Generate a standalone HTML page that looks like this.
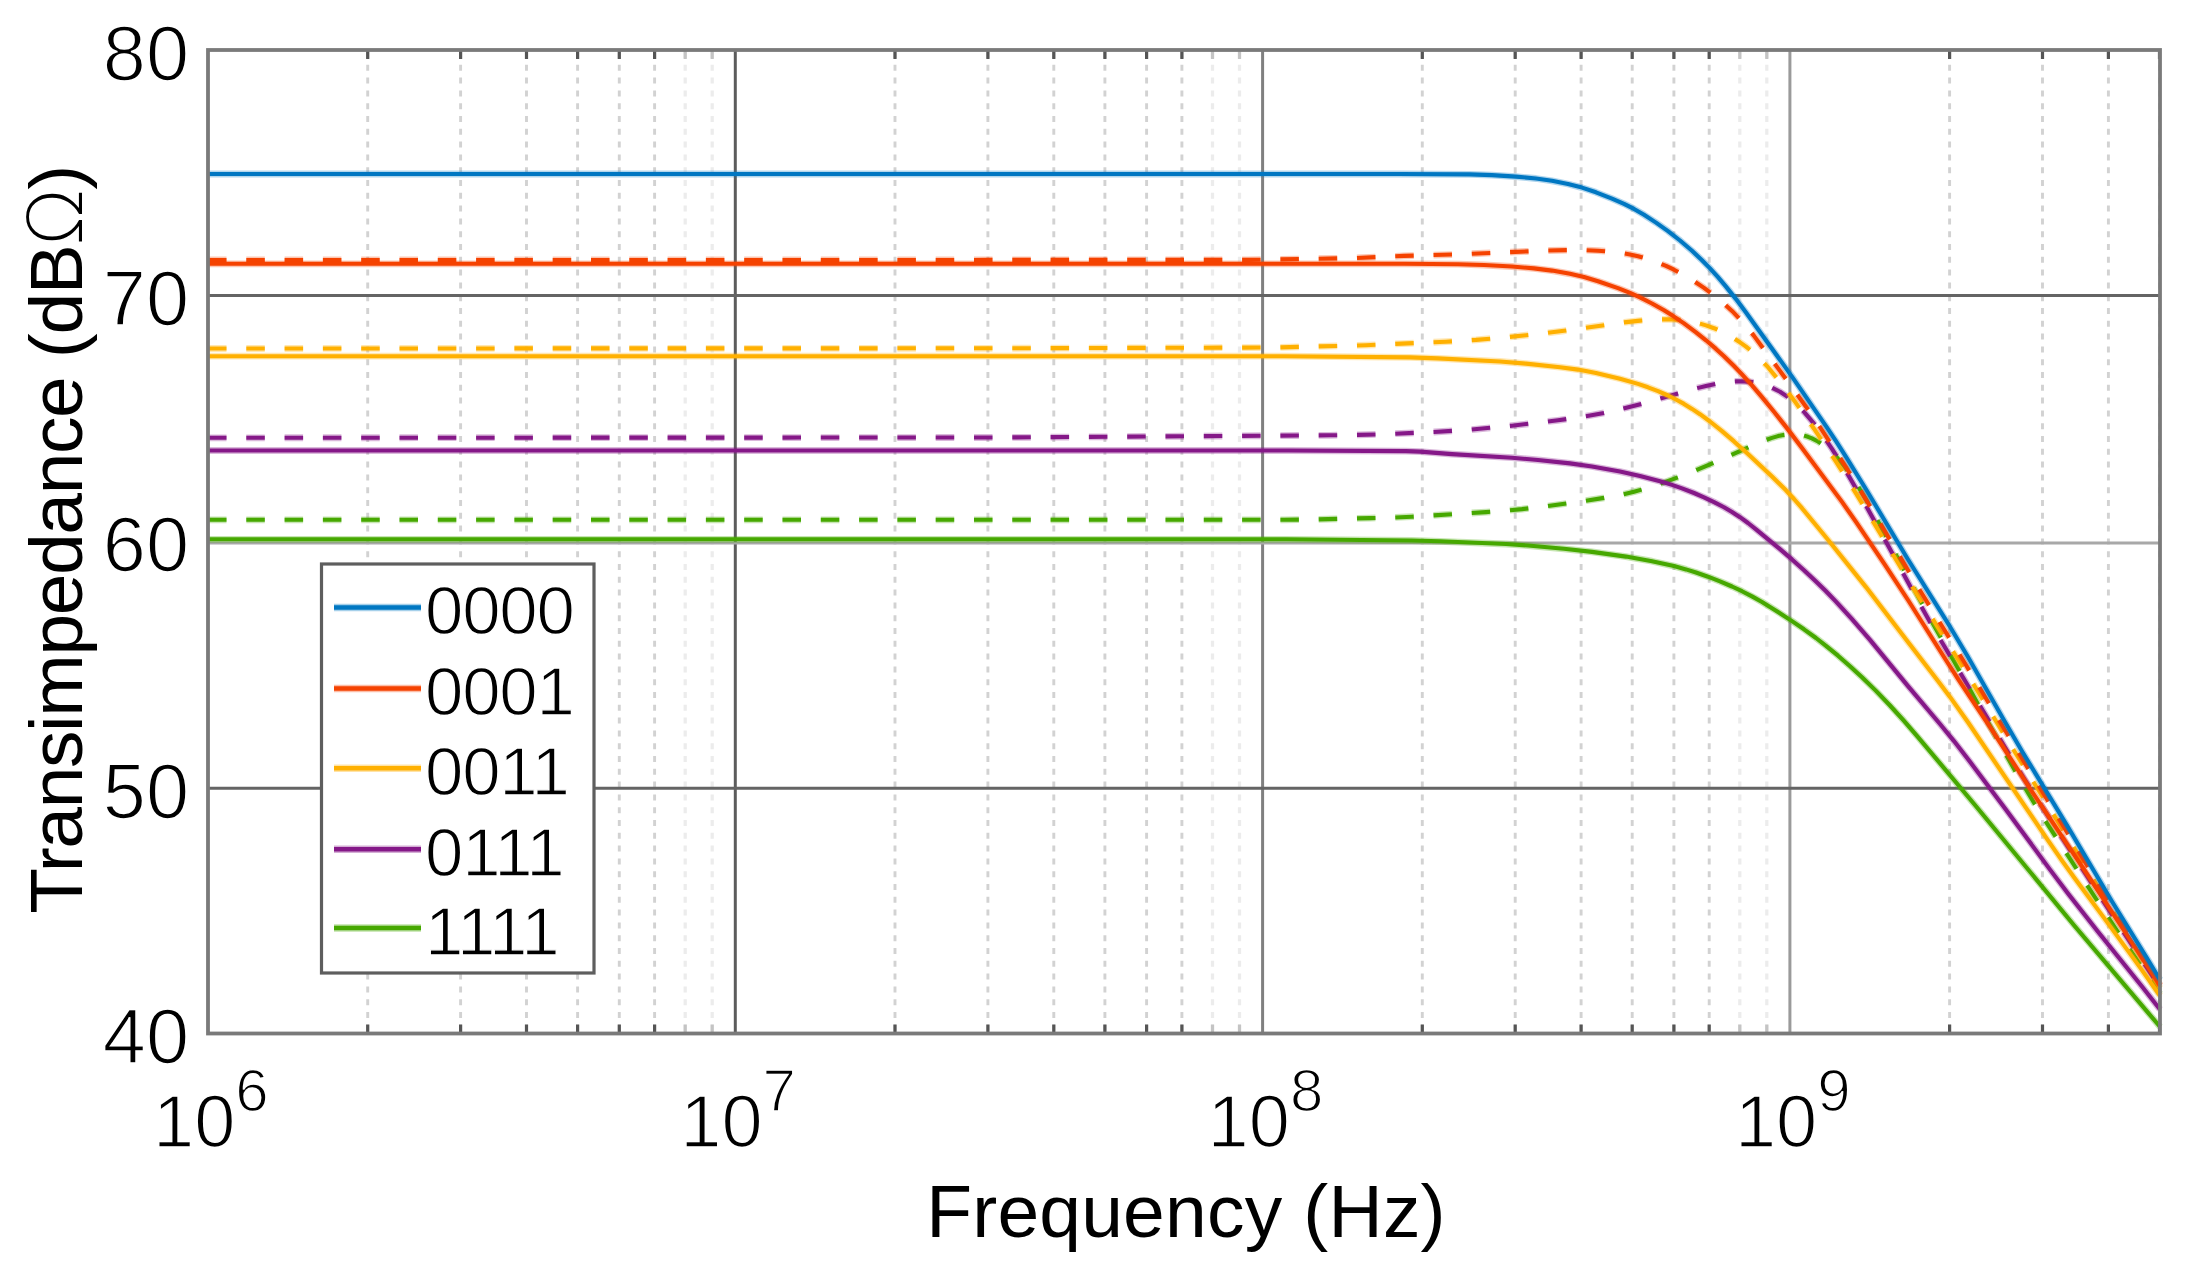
<!DOCTYPE html>
<html><head><meta charset="utf-8"><title>Transimpedance vs Frequency</title>
<style>
html,body{margin:0;padding:0;background:#fff;}
body{width:2190px;height:1280px;overflow:hidden;}
svg{display:block;font-family:"Liberation Sans",Arial,Helvetica,sans-serif;}
</style></head><body>
<svg width="2190" height="1280" viewBox="0 0 2190 1280">
<rect x="0" y="0" width="2190" height="1280" fill="#fff"/>
<path d="M367.7,52.0V1031.5M460.6,52.0V1031.5M526.5,52.0V1031.5M577.6,52.0V1031.5M619.3,52.0V1031.5M654.6,52.0V1031.5M895.0,52.0V1031.5M987.9,52.0V1031.5M1053.8,52.0V1031.5M1104.9,52.0V1031.5M1146.6,52.0V1031.5M1181.9,52.0V1031.5M1422.3,52.0V1031.5M1515.2,52.0V1031.5M1581.1,52.0V1031.5M1632.2,52.0V1031.5M1673.9,52.0V1031.5M1709.2,52.0V1031.5M1949.6,52.0V1031.5M2042.5,52.0V1031.5M2108.4,52.0V1031.5M2159.5,52.0V1031.5" stroke="#d2d2d2" stroke-width="2.9" stroke-dasharray="6 6.8" fill="none"/>
<path d="M685.2,52.0V1031.5M712.2,52.0V1031.5M1212.5,52.0V1031.5M1239.5,52.0V1031.5M1739.8,52.0V1031.5M1766.8,52.0V1031.5" stroke="#ececec" stroke-width="3.2" stroke-dasharray="6 6.8" fill="none"/>
<path d="M735.3,50.0V1033.5" stroke="#5c5c5c" stroke-width="3" fill="none"/>
<path d="M1262.6,50.0V1033.5" stroke="#808080" stroke-width="3" fill="none"/>
<path d="M1789.9,50.0V1033.5" stroke="#9a9a9a" stroke-width="3" fill="none"/>
<path d="M208.0,295.5H2160.0M208.0,788.3H2160.0" stroke="#646464" stroke-width="3" fill="none"/>
<path d="M208.0,543.0H2160.0" stroke="#a8a8a8" stroke-width="3" fill="none"/>
<g stroke="#46A800" fill="none" stroke-linejoin="round" stroke-dasharray="18.5 19.8"><path d="M208.0,519.8L1284.0,519.8L1312.0,519.5L1370.0,518.1L1394.0,517.5L1412.0,516.7L1486.0,512.1L1506.0,510.6L1522.0,509.1L1548.0,506.0L1578.0,501.9L1604.0,497.9L1622.0,494.6L1634.0,491.8L1646.0,488.4L1662.0,483.1L1678.0,477.3L1694.0,471.0L1710.0,464.3L1758.0,443.2L1766.0,440.0L1772.0,437.9L1778.0,436.1L1782.0,435.2L1790.0,434.2L1794.0,434.2L1798.0,434.5L1804.0,435.6L1808.0,436.8L1812.0,438.4L1818.0,441.5L1824.0,445.5L1830.0,450.5L1836.0,456.4L1842.0,463.3L1848.0,471.2L1856.0,483.0L1866.0,499.6L1876.0,517.5L1918.0,596.2L1934.0,625.5L1968.0,686.1L2006.0,754.8L2024.0,786.1L2034.0,802.7L2046.0,821.8L2100.0,905.1L2122.0,938.2L2160.0,993.8" stroke-width="6.8" stroke-opacity="0.3"/><path d="M208.0,519.8L1284.0,519.8L1312.0,519.5L1370.0,518.1L1394.0,517.5L1412.0,516.7L1486.0,512.1L1506.0,510.6L1522.0,509.1L1548.0,506.0L1578.0,501.9L1604.0,497.9L1622.0,494.6L1634.0,491.8L1646.0,488.4L1662.0,483.1L1678.0,477.3L1694.0,471.0L1710.0,464.3L1758.0,443.2L1766.0,440.0L1772.0,437.9L1778.0,436.1L1782.0,435.2L1790.0,434.2L1794.0,434.2L1798.0,434.5L1804.0,435.6L1808.0,436.8L1812.0,438.4L1818.0,441.5L1824.0,445.5L1830.0,450.5L1836.0,456.4L1842.0,463.3L1848.0,471.2L1856.0,483.0L1866.0,499.6L1876.0,517.5L1918.0,596.2L1934.0,625.5L1968.0,686.1L2006.0,754.8L2024.0,786.1L2034.0,802.7L2046.0,821.8L2100.0,905.1L2122.0,938.2L2160.0,993.8" stroke-width="4.1"/></g>
<g stroke="#851888" fill="none" stroke-linejoin="round" stroke-dasharray="18.5 19.8"><path d="M208.0,437.8L998.0,437.5L1330.0,435.3L1358.0,434.9L1384.0,434.2L1434.0,432.0L1470.0,429.7L1512.0,425.7L1558.0,420.3L1576.0,417.8L1590.0,415.5L1604.0,412.9L1618.0,409.8L1642.0,403.8L1694.0,388.9L1706.0,386.0L1718.0,383.5L1730.0,381.8L1736.0,381.4L1742.0,381.3L1752.0,382.1L1758.0,383.2L1762.0,384.2L1768.0,386.1L1772.0,387.7L1780.0,391.8L1788.0,397.1L1796.0,403.9L1804.0,411.9L1814.0,423.7L1822.0,434.3L1832.0,448.9L1840.0,461.5L1848.0,474.6L1866.0,505.7L1886.0,541.7L1920.0,604.3L1934.0,629.1L2010.0,755.7L2026.0,781.6L2042.0,806.7L2112.0,914.7L2160.0,987.7" stroke-width="6.8" stroke-opacity="0.3"/><path d="M208.0,437.8L998.0,437.5L1330.0,435.3L1358.0,434.9L1384.0,434.2L1434.0,432.0L1470.0,429.7L1512.0,425.7L1558.0,420.3L1576.0,417.8L1590.0,415.5L1604.0,412.9L1618.0,409.8L1642.0,403.8L1694.0,388.9L1706.0,386.0L1718.0,383.5L1730.0,381.8L1736.0,381.4L1742.0,381.3L1752.0,382.1L1758.0,383.2L1762.0,384.2L1768.0,386.1L1772.0,387.7L1780.0,391.8L1788.0,397.1L1796.0,403.9L1804.0,411.9L1814.0,423.7L1822.0,434.3L1832.0,448.9L1840.0,461.5L1848.0,474.6L1866.0,505.7L1886.0,541.7L1920.0,604.3L1934.0,629.1L2010.0,755.7L2026.0,781.6L2042.0,806.7L2112.0,914.7L2160.0,987.7" stroke-width="4.1"/></g>
<g stroke="#FFB000" fill="none" stroke-linejoin="round" stroke-dasharray="18.5 19.8"><path d="M208.0,348.5L994.0,348.3L1276.0,347.5L1366.0,345.2L1446.0,341.7L1476.0,339.9L1506.0,337.3L1542.0,333.6L1564.0,330.8L1624.0,322.4L1640.0,320.6L1654.0,319.5L1668.0,319.3L1676.0,319.7L1682.0,320.2L1694.0,322.2L1700.0,323.6L1706.0,325.4L1714.0,328.2L1720.0,330.8L1728.0,334.9L1734.0,338.4L1740.0,342.3L1746.0,346.6L1752.0,351.4L1758.0,356.8L1768.0,367.2L1780.0,381.7L1796.0,403.1L1814.0,428.7L1836.0,461.7L1856.0,493.3L1914.0,589.4L1968.0,675.2L2012.0,747.4L2064.0,831.3L2160.0,988.0" stroke-width="6.8" stroke-opacity="0.3"/><path d="M208.0,348.5L994.0,348.3L1276.0,347.5L1366.0,345.2L1446.0,341.7L1476.0,339.9L1506.0,337.3L1542.0,333.6L1564.0,330.8L1624.0,322.4L1640.0,320.6L1654.0,319.5L1668.0,319.3L1676.0,319.7L1682.0,320.2L1694.0,322.2L1700.0,323.6L1706.0,325.4L1714.0,328.2L1720.0,330.8L1728.0,334.9L1734.0,338.4L1740.0,342.3L1746.0,346.6L1752.0,351.4L1758.0,356.8L1768.0,367.2L1780.0,381.7L1796.0,403.1L1814.0,428.7L1836.0,461.7L1856.0,493.3L1914.0,589.4L1968.0,675.2L2012.0,747.4L2064.0,831.3L2160.0,988.0" stroke-width="4.1"/></g>
<g stroke="#F54200" fill="none" stroke-linejoin="round" stroke-dasharray="18.5 19.8"><path d="M208.0,260.0L1248.0,259.9L1354.0,258.1L1404.0,255.9L1454.0,254.5L1548.0,250.5L1572.0,250.0L1586.0,250.2L1598.0,250.7L1610.0,251.6L1620.0,252.8L1630.0,254.4L1638.0,256.2L1648.0,259.1L1656.0,261.8L1666.0,265.9L1674.0,269.7L1684.0,275.1L1694.0,281.2L1704.0,287.9L1714.0,295.3L1724.0,303.6L1732.0,310.9L1742.0,321.4L1748.0,328.4L1754.0,335.9L1790.0,384.4L1806.0,406.7L1820.0,427.2L1834.0,448.4L1848.0,470.3L1860.0,489.6L1876.0,516.1L1920.0,590.5L1966.0,665.0L2018.0,751.8L2062.0,823.9L2106.0,896.9L2144.0,958.5L2160.0,984.9" stroke-width="6.8" stroke-opacity="0.3"/><path d="M208.0,260.0L1248.0,259.9L1354.0,258.1L1404.0,255.9L1454.0,254.5L1548.0,250.5L1572.0,250.0L1586.0,250.2L1598.0,250.7L1610.0,251.6L1620.0,252.8L1630.0,254.4L1638.0,256.2L1648.0,259.1L1656.0,261.8L1666.0,265.9L1674.0,269.7L1684.0,275.1L1694.0,281.2L1704.0,287.9L1714.0,295.3L1724.0,303.6L1732.0,310.9L1742.0,321.4L1748.0,328.4L1754.0,335.9L1790.0,384.4L1806.0,406.7L1820.0,427.2L1834.0,448.4L1848.0,470.3L1860.0,489.6L1876.0,516.1L1920.0,590.5L1966.0,665.0L2018.0,751.8L2062.0,823.9L2106.0,896.9L2144.0,958.5L2160.0,984.9" stroke-width="4.1"/></g>
<g stroke="#46A800" fill="none" stroke-linejoin="round"><path d="M208.0,539.3L1286.0,539.3L1412.0,540.5L1440.0,541.3L1506.0,544.0L1528.0,545.5L1564.0,548.8L1592.0,551.9L1626.0,556.6L1652.0,561.2L1674.0,566.1L1686.0,569.4L1696.0,572.5L1708.0,576.7L1720.0,581.4L1732.0,586.5L1742.0,591.2L1752.0,596.4L1762.0,602.0L1776.0,610.7L1792.0,621.1L1804.0,629.3L1816.0,638.0L1826.0,645.8L1838.0,655.7L1850.0,666.2L1862.0,677.2L1876.0,690.9L1890.0,705.5L1904.0,720.9L1918.0,737.1L1976.0,806.2L2074.0,925.2L2160.0,1026.8" stroke-width="6.8" stroke-opacity="0.3"/><path d="M208.0,539.3L1286.0,539.3L1412.0,540.5L1440.0,541.3L1506.0,544.0L1528.0,545.5L1564.0,548.8L1592.0,551.9L1626.0,556.6L1652.0,561.2L1674.0,566.1L1686.0,569.4L1696.0,572.5L1708.0,576.7L1720.0,581.4L1732.0,586.5L1742.0,591.2L1752.0,596.4L1762.0,602.0L1776.0,610.7L1792.0,621.1L1804.0,629.3L1816.0,638.0L1826.0,645.8L1838.0,655.7L1850.0,666.2L1862.0,677.2L1876.0,690.9L1890.0,705.5L1904.0,720.9L1918.0,737.1L1976.0,806.2L2074.0,925.2L2160.0,1026.8" stroke-width="4.1"/></g>
<g stroke="#851888" fill="none" stroke-linejoin="round"><path d="M208.0,450.5L1288.0,450.5L1406.0,451.1L1420.0,451.6L1452.0,454.1L1512.0,457.7L1538.0,460.0L1570.0,463.4L1592.0,466.5L1620.0,471.6L1640.0,476.0L1660.0,481.2L1672.0,484.9L1682.0,488.4L1694.0,493.0L1704.0,497.3L1714.0,502.1L1724.0,507.3L1732.0,512.0L1740.0,517.2L1748.0,523.0L1756.0,529.3L1780.0,549.1L1792.0,559.4L1804.0,570.2L1816.0,581.5L1826.0,591.3L1836.0,601.6L1852.0,619.1L1870.0,639.9L1908.0,686.1L1940.0,724.0L1954.0,741.1L1970.0,761.8L2006.0,809.7L2050.0,869.6L2068.0,893.5L2098.0,931.8L2142.0,986.5L2160.0,1009.4" stroke-width="6.8" stroke-opacity="0.3"/><path d="M208.0,450.5L1288.0,450.5L1406.0,451.1L1420.0,451.6L1452.0,454.1L1512.0,457.7L1538.0,460.0L1570.0,463.4L1592.0,466.5L1620.0,471.6L1640.0,476.0L1660.0,481.2L1672.0,484.9L1682.0,488.4L1694.0,493.0L1704.0,497.3L1714.0,502.1L1724.0,507.3L1732.0,512.0L1740.0,517.2L1748.0,523.0L1756.0,529.3L1780.0,549.1L1792.0,559.4L1804.0,570.2L1816.0,581.5L1826.0,591.3L1836.0,601.6L1852.0,619.1L1870.0,639.9L1908.0,686.1L1940.0,724.0L1954.0,741.1L1970.0,761.8L2006.0,809.7L2050.0,869.6L2068.0,893.5L2098.0,931.8L2142.0,986.5L2160.0,1009.4" stroke-width="4.1"/></g>
<g stroke="#FFB000" fill="none" stroke-linejoin="round"><path d="M208.0,356.2L1284.0,356.2L1410.0,357.4L1438.0,358.4L1500.0,361.5L1526.0,363.6L1560.0,367.2L1578.0,369.6L1596.0,373.0L1620.0,378.7L1638.0,383.9L1648.0,387.3L1658.0,391.1L1668.0,395.5L1676.0,399.5L1684.0,403.9L1692.0,408.9L1700.0,414.2L1710.0,421.5L1722.0,431.1L1734.0,441.4L1748.0,454.1L1772.0,476.5L1786.0,490.3L1794.0,499.0L1802.0,508.2L1828.0,539.7L1866.0,587.1L1908.0,642.1L1938.0,680.9L1950.0,696.9L1968.0,722.3L2048.0,840.3L2062.0,860.6L2074.0,877.3L2104.0,917.9L2140.0,967.4L2160.0,995.7" stroke-width="6.8" stroke-opacity="0.3"/><path d="M208.0,356.2L1284.0,356.2L1410.0,357.4L1438.0,358.4L1500.0,361.5L1526.0,363.6L1560.0,367.2L1578.0,369.6L1596.0,373.0L1620.0,378.7L1638.0,383.9L1648.0,387.3L1658.0,391.1L1668.0,395.5L1676.0,399.5L1684.0,403.9L1692.0,408.9L1700.0,414.2L1710.0,421.5L1722.0,431.1L1734.0,441.4L1748.0,454.1L1772.0,476.5L1786.0,490.3L1794.0,499.0L1802.0,508.2L1828.0,539.7L1866.0,587.1L1908.0,642.1L1938.0,680.9L1950.0,696.9L1968.0,722.3L2048.0,840.3L2062.0,860.6L2074.0,877.3L2104.0,917.9L2140.0,967.4L2160.0,995.7" stroke-width="4.1"/></g>
<g stroke="#F54200" fill="none" stroke-linejoin="round"><path d="M208.0,263.8L1404.0,263.8L1458.0,264.2L1484.0,265.0L1512.0,266.5L1534.0,268.4L1552.0,270.6L1570.0,273.8L1584.0,277.0L1598.0,281.2L1618.0,288.1L1630.0,292.8L1640.0,297.4L1652.0,303.5L1664.0,310.3L1674.0,316.6L1684.0,323.4L1696.0,332.3L1706.0,340.3L1716.0,348.9L1724.0,356.2L1734.0,366.0L1742.0,374.3L1752.0,385.4L1762.0,397.2L1774.0,411.8L1786.0,426.9L1802.0,447.9L1842.0,501.9L1856.0,521.9L1884.0,563.3L1908.0,600.0L1944.0,657.0L1958.0,678.8L1992.0,730.0L2032.0,791.6L2084.0,869.5L2138.0,951.7L2160.0,985.8" stroke-width="6.8" stroke-opacity="0.3"/><path d="M208.0,263.8L1404.0,263.8L1458.0,264.2L1484.0,265.0L1512.0,266.5L1534.0,268.4L1552.0,270.6L1570.0,273.8L1584.0,277.0L1598.0,281.2L1618.0,288.1L1630.0,292.8L1640.0,297.4L1652.0,303.5L1664.0,310.3L1674.0,316.6L1684.0,323.4L1696.0,332.3L1706.0,340.3L1716.0,348.9L1724.0,356.2L1734.0,366.0L1742.0,374.3L1752.0,385.4L1762.0,397.2L1774.0,411.8L1786.0,426.9L1802.0,447.9L1842.0,501.9L1856.0,521.9L1884.0,563.3L1908.0,600.0L1944.0,657.0L1958.0,678.8L1992.0,730.0L2032.0,791.6L2084.0,869.5L2138.0,951.7L2160.0,985.8" stroke-width="4.1"/></g>
<g stroke="#0077C2" fill="none" stroke-linejoin="round"><path d="M208.0,174.0L1398.0,174.0L1470.0,174.4L1492.0,175.1L1516.0,176.6L1536.0,178.5L1552.0,180.8L1568.0,184.0L1582.0,187.6L1596.0,192.3L1612.0,198.6L1624.0,203.8L1634.0,208.9L1644.0,214.8L1656.0,222.6L1668.0,231.1L1680.0,240.5L1692.0,250.8L1702.0,260.2L1710.0,268.4L1718.0,277.2L1726.0,286.6L1736.0,299.1L1746.0,312.5L1792.0,376.6L1826.0,426.2L1836.0,441.2L1846.0,456.8L1866.0,489.3L1908.0,559.5L1950.0,626.7L1968.0,657.0L2004.0,720.3L2022.0,751.2L2068.0,827.1L2112.0,901.5L2146.0,956.6L2160.0,979.8" stroke-width="6.8" stroke-opacity="0.3"/><path d="M208.0,174.0L1398.0,174.0L1470.0,174.4L1492.0,175.1L1516.0,176.6L1536.0,178.5L1552.0,180.8L1568.0,184.0L1582.0,187.6L1596.0,192.3L1612.0,198.6L1624.0,203.8L1634.0,208.9L1644.0,214.8L1656.0,222.6L1668.0,231.1L1680.0,240.5L1692.0,250.8L1702.0,260.2L1710.0,268.4L1718.0,277.2L1726.0,286.6L1736.0,299.1L1746.0,312.5L1792.0,376.6L1826.0,426.2L1836.0,441.2L1846.0,456.8L1866.0,489.3L1908.0,559.5L1950.0,626.7L1968.0,657.0L2004.0,720.3L2022.0,751.2L2068.0,827.1L2112.0,901.5L2146.0,956.6L2160.0,979.8" stroke-width="4.1"/></g>
<path d="M367.7,50.0v9M367.7,1033.5v-9M460.6,50.0v9M460.6,1033.5v-9M526.5,50.0v9M526.5,1033.5v-9M577.6,50.0v9M577.6,1033.5v-9M619.3,50.0v9M619.3,1033.5v-9M654.6,50.0v9M654.6,1033.5v-9M895.0,50.0v9M895.0,1033.5v-9M987.9,50.0v9M987.9,1033.5v-9M1053.8,50.0v9M1053.8,1033.5v-9M1104.9,50.0v9M1104.9,1033.5v-9M1146.6,50.0v9M1146.6,1033.5v-9M1181.9,50.0v9M1181.9,1033.5v-9M1422.3,50.0v9M1422.3,1033.5v-9M1515.2,50.0v9M1515.2,1033.5v-9M1581.1,50.0v9M1581.1,1033.5v-9M1632.2,50.0v9M1632.2,1033.5v-9M1673.9,50.0v9M1673.9,1033.5v-9M1709.2,50.0v9M1709.2,1033.5v-9M1949.6,50.0v9M1949.6,1033.5v-9M2042.5,50.0v9M2042.5,1033.5v-9M2108.4,50.0v9M2108.4,1033.5v-9M2159.5,50.0v9M2159.5,1033.5v-9" stroke="#555" stroke-width="3.2" fill="none"/>
<path d="M685.2,50.0v9M685.2,1033.5v-9M712.2,50.0v9M712.2,1033.5v-9M1212.5,50.0v9M1212.5,1033.5v-9M1239.5,50.0v9M1239.5,1033.5v-9M1739.8,50.0v9M1739.8,1033.5v-9M1766.8,50.0v9M1766.8,1033.5v-9" stroke="#c4c4c4" stroke-width="3.2" fill="none"/>
<rect x="208.0" y="50.0" width="1952.0" height="983.5" fill="none" stroke="#7a7a7a" stroke-width="3.8"/>
<rect x="321.5" y="564" width="272.5" height="409" fill="#fff" stroke="#5e5e5e" stroke-width="3.2"/>
<g stroke="#0077C2"><path d="M334,607.5H421" stroke-width="7.5" stroke-opacity="0.35"/><path d="M334,607.5H421" stroke-width="4.4"/></g>
<text x="425" y="634.0" font-size="69" letter-spacing="-1.2" fill="#000" stroke="#fff" stroke-width="1.4">0000</text>
<g stroke="#F54200"><path d="M334,688.5H421" stroke-width="7.5" stroke-opacity="0.35"/><path d="M334,688.5H421" stroke-width="4.4"/></g>
<text x="425" y="715.0" font-size="69" letter-spacing="-1.2" fill="#000" stroke="#fff" stroke-width="1.4">0001</text>
<g stroke="#FFB000"><path d="M334,768.3H421" stroke-width="7.5" stroke-opacity="0.35"/><path d="M334,768.3H421" stroke-width="4.4"/></g>
<text x="425" y="794.8" font-size="69" letter-spacing="-1.2" fill="#000" stroke="#fff" stroke-width="1.4">0011</text>
<g stroke="#851888"><path d="M334,849.3H421" stroke-width="7.5" stroke-opacity="0.35"/><path d="M334,849.3H421" stroke-width="4.4"/></g>
<text x="425" y="875.8" font-size="69" letter-spacing="-1.2" fill="#000" stroke="#fff" stroke-width="1.4">0111</text>
<g stroke="#46A800"><path d="M334,928H421" stroke-width="7.5" stroke-opacity="0.35"/><path d="M334,928H421" stroke-width="4.4"/></g>
<text x="425" y="954.5" font-size="69" letter-spacing="-1.2" fill="#000" stroke="#fff" stroke-width="1.4">1111</text>
<text x="189" y="79.5" font-size="77.5" text-anchor="end" fill="#000" stroke="#fff" stroke-width="1.6">80</text>
<text x="189" y="325.0" font-size="77.5" text-anchor="end" fill="#000" stroke="#fff" stroke-width="1.6">70</text>
<text x="189" y="571.1" font-size="77.5" text-anchor="end" fill="#000" stroke="#fff" stroke-width="1.6">60</text>
<text x="189" y="817.8" font-size="77.5" text-anchor="end" fill="#000" stroke="#fff" stroke-width="1.6">50</text>
<text x="189" y="1063.0" font-size="77.5" text-anchor="end" fill="#000" stroke="#fff" stroke-width="1.6">40</text>
<text x="153.0" y="1146.5" font-size="74" fill="#000" stroke="#fff" stroke-width="1.6">10<tspan dy="-36" font-size="60">6</tspan></text>
<text x="680.3" y="1146.5" font-size="74" fill="#000" stroke="#fff" stroke-width="1.6">10<tspan dy="-36" font-size="60">7</tspan></text>
<text x="1207.6" y="1146.5" font-size="74" fill="#000" stroke="#fff" stroke-width="1.6">10<tspan dy="-36" font-size="60">8</tspan></text>
<text x="1734.9" y="1146.5" font-size="74" fill="#000" stroke="#fff" stroke-width="1.6">10<tspan dy="-36" font-size="60">9</tspan></text>
<text x="1186" y="1236.5" font-size="75" letter-spacing="0.2" text-anchor="middle" fill="#000">Frequency (Hz)</text>
<text transform="translate(81.5,540) rotate(-90)" font-size="75" letter-spacing="-1.4" text-anchor="middle" fill="#000">Transimpedance (dB<tspan font-family="DejaVu Sans" font-weight="200" stroke-width="0">Ω</tspan>)</text>
</svg>
</body></html>
